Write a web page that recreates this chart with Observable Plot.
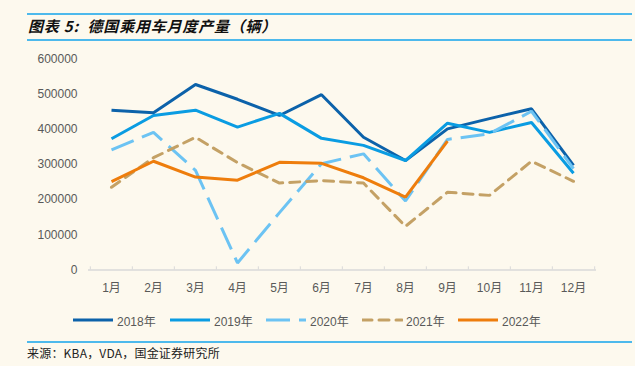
<!DOCTYPE html>
<html>
<head>
<meta charset="utf-8">
<script src="https://cdn.jsdelivr.net/npm/d3@7"></script>
<script src="https://cdn.jsdelivr.net/npm/@observablehq/plot@0.6"></script>
<style>
  body { margin: 0; background: #FDF9EE; }
  #root { position: relative; width: 635px; height: 366px; overflow: hidden; background: #FDF9EE; font-family: "Liberation Sans", Arial, "Noto Sans CJK SC", sans-serif; }
  .hline { position: absolute; left: 27px; width: 605px; height: 2px; background: #4DB9EC; }
  #title { position: absolute; left: 28px; top: 16px; font-family: "Noto Sans CJK SC", sans-serif; font-weight: bold; font-style: italic; font-size: 15px; letter-spacing: 0.8px; line-height: 20px; color: #111; white-space: nowrap; }
  #chart { position: absolute; left: 0; top: 44px; }
  .leg { position: absolute; top: 312px; display: flex; align-items: center; font-size: 12px; color: #595959; white-space: nowrap; height: 16px; }
  .leg svg { margin-right: 3px; }
  #caption { position: absolute; left: 27px; top: 344px; font-family: "Noto Sans CJK SC", sans-serif; font-size: 12px; letter-spacing: 0.2px; color: #222; white-space: nowrap; line-height: 18px; }
</style>
</head>
<body>
<div id="root">
  <div class="hline" style="top:13px"></div>
  <div id="title">图表 5:&nbsp;&nbsp;德国乘用车月度产量（辆）</div>
  <div class="hline" style="top:39px"></div>
  <div id="chart"></div>
  <div id="legend"></div>
  <div class="hline" style="top:341px"></div>
  <div id="caption">来源：KBA，VDA，国金证券研究所</div>
</div>
<script>
const months = ["1月","2月","3月","4月","5月","6月","7月","8月","9月","10月","11月","12月"];
const yTicks = [0, 100000, 200000, 300000, 400000, 500000, 600000];
const seriesNames = ["2018年","2019年","2020年","2021年","2022年"];
const y2018 = [454000, 447000, 527000, 485000, 439000, 498000, 377000, 311000, 401000, 430000, 458000, 297000];
const y2019 = [373000, 439000, 454000, 406000, 445000, 374000, 354000, 311000, 417000, 391000, 419000, 275000];
const y2020 = [341000, 391000, 283000, 20000, 163000, 302000, 330000, 196000, 371000, 387000, 451000, 288000];
const y2021 = [235000, 319000, 377000, 305000, 247000, 254000, 247000, 124000, 221000, 212000, 309000, 252000];
const y2022 = [251000, 309000, 264000, 255000, 306000, 303000, 262000, 207000, 366000];

const colors = ["#0C62AA", "#0A9CE2", "#6CC3F3", "#C4A165", "#EE7D0C"];
const dashes = [null, null, "24 9", "10 7", null];
const values = [y2018, y2019, y2020, y2021, y2022];

const W = 635, H = 256;
const mL = 88, mR = 39, mT = 14.3, mB = 30.5;
const halfStep = (W - mL - mR) / months.length / 2;

const marks = [];
marks.push(Plot.ruleY([0], {stroke: "#D9D9D9", strokeWidth: 1.5}));
marks.push(Plot.ruleX(months, {x: d => d, dx: -halfStep, y1: 0, y2: 9000, stroke: "#D9D9D9", strokeWidth: 1}));
marks.push(Plot.ruleX([months[months.length - 1]], {x: d => d, dx: halfStep, y1: 0, y2: 9000, stroke: "#D9D9D9", strokeWidth: 1}));
values.forEach((vals, i) => {
  const data = vals.map((v, j) => ({m: months[j], v}));
  marks.push(Plot.line(data, {
    x: "m", y: "v", stroke: colors[i], strokeWidth: 3,
    strokeDasharray: dashes[i] || undefined,
    strokeLinecap: dashes[i] ? (i === 3 ? "round" : "butt") : "butt",
    strokeLinejoin: "miter"
  }));
});
marks.push(Plot.axisX({tickSize: 0, tickPadding: 13, fontSize: 12, fill: "#595959", label: null}));
marks.push(Plot.axisY({ticks: yTicks, tickFormat: d => String(d), tickSize: 0, tickPadding: 11, fontSize: 12, fill: "#595959", label: null}));

const chart = Plot.plot({
  width: W, height: H,
  marginLeft: mL, marginRight: mR, marginTop: mT, marginBottom: mB,
  style: {background: "transparent", fontFamily: '"Liberation Sans", Arial, "Noto Sans CJK SC", sans-serif', color: "#595959", overflow: "visible"},
  x: {type: "point", domain: months, padding: 0.5},
  y: {domain: [0, 600000]},
  marks
});
document.getElementById("chart").appendChild(chart);

const legendX = [73, 170, 266, 362, 458];
const legend = document.getElementById("legend");
seriesNames.forEach((name, i) => {
  const item = document.createElement("div");
  item.className = "leg";
  item.style.left = legendX[i] + "px";
  const svg = d3.create("svg").attr("width", 41).attr("height", 8);
  svg.append("line").attr("x1", 0).attr("x2", 40).attr("y1", 4).attr("y2", 4)
    .attr("stroke", colors[i]).attr("stroke-width", 3)
    .attr("stroke-dasharray", dashes[i])
    .attr("stroke-linecap", i === 3 ? "round" : "butt");
  item.appendChild(svg.node());
  const span = document.createElement("span");
  span.textContent = name;
  item.appendChild(span);
  legend.appendChild(item);
});
</script>
</body>
</html>
